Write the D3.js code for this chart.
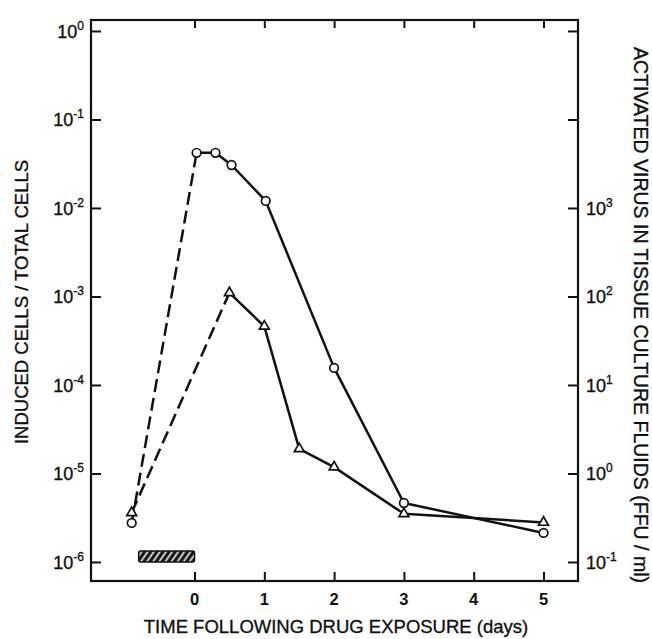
<!DOCTYPE html>
<html><head><meta charset="utf-8">
<script src="https://cdn.jsdelivr.net/npm/d3@7"></script>
<style>
body{margin:0;background:#fff}
text{font-family:"Liberation Sans",Arial,Helvetica,sans-serif;fill:#111;stroke:#111;stroke-width:0.35px}
</style>
</head><body>
<svg id="c" width="652" height="639"></svg>
<script>
// ---- data ----
const xTicks = [0, 1, 2, 3, 4, 5];
const leftExponents = [0, -1, -2, -3, -4, -5, -6];
const rightExponents = [-1, 0, 1, 2, 3, 4, 5];
const rightLabeled = [-1, 0, 1, 2, 3];
// circles: induced cells / total cells (left axis)
const circleDays = [-0.9, 0.03, 0.3, 0.53, 1.02, 2, 3, 5];
const circleValues = [2.76e-6, 0.042, 0.042, 0.0306, 0.012, 1.56e-4, 4.64e-6, 2.13e-6];
// triangles: activated virus FFU/ml (right axis)
const triangleDays = [-0.9, 0.5, 1.0, 1.5, 2.0, 3.0, 5.0];
const triangleValues = [0.36, 110, 46, 1.9, 1.18, 0.35, 0.28];
// drug exposure period (days)
const exposure = [-0.8, 0];
const exposureLevel = 1.15e-6;

// ---- layout ----
const L = 91, R = 578, T = 20, B = 581;
const svg = d3.select("#c");
const x = d3.scaleLinear().domain([-1.483, 5.494]).range([L, R]);
const yL = d3.scaleLog().domain([Math.pow(10, -6.215), Math.pow(10, 0.124)]).range([B, T]);
const yR = d3.scaleLog().domain([Math.pow(10, -1.215), Math.pow(10, 5.124)]).range([B, T]);
const ink = "#111";

// pattern for exposure bar
const defs = svg.append("defs");
const pat = defs.append("pattern").attr("id", "hatch").attr("patternUnits", "userSpaceOnUse")
  .attr("width", 5).attr("height", 5).attr("patternTransform", "rotate(35)");
pat.append("rect").attr("width", 5).attr("height", 5).attr("fill", ink);
pat.append("line").attr("x1", 2.5).attr("y1", 0).attr("x2", 2.5).attr("y2", 5)
  .attr("stroke", "#fff").attr("stroke-width", 1.6);

// axes (ticks only)
const gB = svg.append("g").attr("transform", `translate(0,${B})`)
  .call(d3.axisBottom(x).tickValues(xTicks).tickSize(-9).tickFormat(""));
const gT = svg.append("g").attr("transform", `translate(0,${T})`)
  .call(d3.axisTop(x).tickValues(xTicks).tickSize(-8).tickFormat(""));
const gL = svg.append("g").attr("transform", `translate(${L},0)`)
  .call(d3.axisLeft(yL).tickValues(leftExponents.map(e => Math.pow(10, e))).tickSize(-10).tickFormat(""));
const gR = svg.append("g").attr("transform", `translate(${R},0)`)
  .call(d3.axisRight(yR).tickValues(rightExponents.map(e => Math.pow(10, e))).tickSize(-10).tickFormat(""));
[gB, gT, gL, gR].forEach(g => {
  g.select(".domain").remove();
  g.selectAll(".tick line").attr("stroke", ink).attr("stroke-width", 2);
});
svg.append("rect").attr("x", L).attr("y", T).attr("width", R - L).attr("height", B - T)
  .attr("fill", "none").attr("stroke", ink).attr("stroke-width", 2.2);

// tick labels
svg.append("g").selectAll("text").data(xTicks).join("text")
  .attr("x", d => x(d)).attr("y", 605).attr("text-anchor", "middle")
  .attr("font-size", 16.5).attr("font-weight", "bold").style("stroke-width", "0px").text(d => d);

function powLabel(g, e, px, py, anchor) {
  const t = g.append("text").attr("x", px).attr("y", py).attr("text-anchor", anchor).attr("font-size", 18);
  t.append("tspan").text("10");
  t.append("tspan").attr("dy", -8).attr("font-size", 12).text(e < 0 ? "-" + Math.abs(e) : e);
}
const gl = svg.append("g");
leftExponents.forEach(e => powLabel(gl, e, 84, yL(Math.pow(10, e)) + 7, "end"));
const gr = svg.append("g");
rightLabeled.forEach(e => powLabel(gr, e, 586, yR(Math.pow(10, e)) + 7, "start"));

// axis titles
svg.append("text").attr("transform", `translate(28,${302}) rotate(-90)`).attr("text-anchor", "middle")
  .attr("font-size", 18.5).text("INDUCED CELLS / TOTAL CELLS");
svg.append("text").attr("transform", `translate(634,${315}) rotate(90)`).attr("text-anchor", "middle")
  .attr("font-size", 19.5).text("ACTIVATED VIRUS IN TISSUE CULTURE FLUIDS (FFU / ml)");
svg.append("text").attr("x", 336).attr("y", 633).attr("text-anchor", "middle")
  .attr("font-size", 18.5).text("TIME FOLLOWING DRUG EXPOSURE (days)");

// exposure bar
svg.append("rect").attr("x", x(exposure[0])).attr("width", x(exposure[1]) - x(exposure[0]))
  .attr("y", yL(exposureLevel) - 5.5).attr("height", 11).attr("rx", 2)
  .attr("fill", "url(#hatch)").attr("stroke", ink).attr("stroke-width", 1.5);

// series
const circ = circleDays.map((d, i) => [x(d), yL(circleValues[i])]);
const tri = triangleDays.map((d, i) => [x(d), yR(triangleValues[i])]);
const line = d3.line();
function drawSeries(pts) {
  svg.append("path").attr("d", line(pts.slice(0, 2))).attr("fill", "none").attr("stroke", ink)
    .attr("stroke-width", 2.5).attr("stroke-dasharray", "13,6");
  svg.append("path").attr("d", line(pts.slice(1))).attr("fill", "none").attr("stroke", ink)
    .attr("stroke-width", 2.5).attr("stroke-linejoin", "round");
}
drawSeries(circ);
drawSeries(tri);
svg.append("g").selectAll("circle").data(circ).join("circle")
  .attr("cx", d => d[0]).attr("cy", d => d[1]).attr("r", 4.3)
  .attr("fill", "#fff").attr("stroke", ink).attr("stroke-width", 1.7);
svg.append("g").selectAll("path").data(tri).join("path")
  .attr("transform", d => `translate(${d[0]},${d[1]})`)
  .attr("d", d3.symbol(d3.symbolTriangle, 42)())
  .attr("fill", "#fff").attr("stroke", ink).attr("stroke-width", 1.7);
</script>
</body></html>
